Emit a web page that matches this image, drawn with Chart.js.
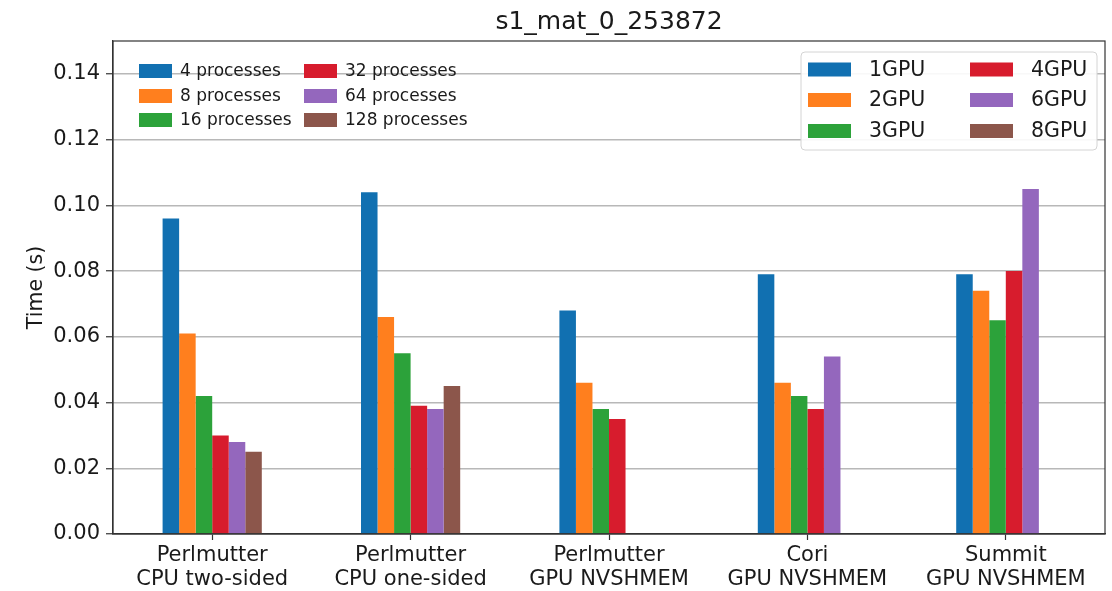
<!DOCTYPE html>
<html>
<head>
<meta charset="utf-8">
<script src="https://cdn.jsdelivr.net/npm/chart.js@4.4.1/dist/chart.umd.min.js"></script>
<style>
  html, body { margin: 0; padding: 0; background: #fff; }
  #wrap { width: 1112px; height: 591px; }
</style>
</head>
<body>
<div id="wrap"><canvas id="chart" width="1112" height="591"></canvas></div>
<script>
// categories (x axis, two lines each)
const categories = [
    ['Perlmutter', 'CPU two-sided'],
    ['Perlmutter', 'CPU one-sided'],
    ['Perlmutter', 'GPU NVSHMEM'],
    ['Cori', 'GPU NVSHMEM'],
    ['Summit', 'GPU NVSHMEM'],
];

// one series per colour slot (CPU process count / GPU count share a slot)
const slot1 = [0.096, 0.104, 0.068, 0.079, 0.079];
const slot2 = [0.061, 0.066, 0.046, 0.046, 0.074];
const slot3 = [0.042, 0.055, 0.038, 0.042, 0.065];
const slot4 = [0.030, 0.039, 0.035, 0.038, 0.080];
const slot5 = [0.028, 0.038, null, 0.054, 0.105];
const slot6 = [0.025, 0.045, null, null, null];

const cpuLabels = ['4 processes', '8 processes', '16 processes', '32 processes', '64 processes', '128 processes'];
const gpuLabels = ['1GPU', '2GPU', '3GPU', '4GPU', '6GPU', '8GPU'];
const colors = ['#1170b1', '#ff7f1e', '#2ca23a', '#d71c2d', '#9467bd', '#8c564b'];

const yTicks = [0, 0.02, 0.04, 0.06, 0.08, 0.10, 0.12, 0.14];
const chartTitle = 's1_mat_0_253872';

const FONT = "'DejaVu Sans', sans-serif";
const TEXT = '#1a1a1a';

const series = [slot1, slot2, slot3, slot4, slot5, slot6];

// title, top/right spines and the two legends are drawn by hand
const extras = {
    id: 'extras',
    afterDatasetsDraw(chart) {
        const { ctx, chartArea: a } = chart;
        ctx.save();
        ctx.strokeStyle = '#333';
        ctx.lineWidth = 1.2;
        ctx.strokeRect(a.left, a.top, a.right - a.left, a.bottom - a.top);
        ctx.restore();
    },
    afterDraw(chart) {
        const { ctx, chartArea: a } = chart;
        ctx.save();

        // title
        ctx.fillStyle = TEXT;
        ctx.font = `25px ${FONT}`;
        ctx.textAlign = 'center';
        ctx.textBaseline = 'middle';
        ctx.fillText(chartTitle, (a.left + a.right) / 2, 22);

        // left legend, no frame
        ctx.font = `17px ${FONT}`;
        ctx.textAlign = 'left';
        const lx = [a.left + 26, a.left + 191];
        const ly = [71, 96, 120];
        cpuLabels.forEach((lab, i) => {
            const col = Math.floor(i / 3), row = i % 3;
            ctx.fillStyle = colors[i];
            ctx.fillRect(lx[col], ly[row] - 7, 33, 14);
            ctx.fillStyle = TEXT;
            ctx.fillText(lab, lx[col] + 41, ly[row] + 1);
        });

        // right legend, rounded frame
        const bx = 801, by = 52, bw = 296, bh = 98;
        ctx.beginPath();
        ctx.roundRect(bx, by, bw, bh, 4);
        ctx.fillStyle = 'rgba(255,255,255,0.9)';
        ctx.fill();
        ctx.strokeStyle = '#d4d4d4';
        ctx.lineWidth = 1;
        ctx.stroke();

        ctx.font = `20.5px ${FONT}`;
        const rx = [808, 970];
        const ry = [69.5, 100, 131];
        gpuLabels.forEach((lab, i) => {
            const col = Math.floor(i / 3), row = i % 3;
            ctx.fillStyle = colors[i];
            ctx.fillRect(rx[col], ry[row] - 7, 43, 14);
            ctx.fillStyle = TEXT;
            ctx.fillText(lab, rx[col] + 61, ry[row] + 1);
        });

        ctx.restore();
    }
};

new Chart(document.getElementById('chart'), {
    type: 'bar',
    data: {
        labels: categories,
        datasets: series.map((d, i) => ({
            label: gpuLabels[i],
            data: d,
            backgroundColor: colors[i],
            borderWidth: 0,
            categoryPercentage: 0.5,
            barPercentage: 1.0,
        })),
    },
    options: {
        responsive: false,
        animation: false,
        layout: { padding: { left: 0, right: 7, top: 41, bottom: 0 } },
        plugins: {
            legend: { display: false },
            tooltip: { enabled: false },
        },
        scales: {
            x: {
                grid: {
                    display: true,
                    drawOnChartArea: false,
                    drawTicks: true,
                    offset: false,
                    tickLength: 6,
                    tickColor: '#333',
                    tickWidth: 1.2,
                },
                border: { display: true, color: '#333', width: 1.2 },
                ticks: {
                    color: TEXT,
                    font: { family: FONT, size: 21, lineHeight: 1.15 },
                    padding: 3,
                    maxRotation: 0,
                    autoSkip: false,
                },
                afterFit(scale) { scale.height = 57; },
            },
            y: {
                min: 0,
                max: 0.15,
                grid: {
                    color: '#b8b8b8',
                    lineWidth: 1.5,
                    drawTicks: true,
                    tickLength: 7,
                    tickColor: '#333',
                    tickWidth: 1.2,
                },
                border: { display: true, color: '#333', width: 1.2 },
                ticks: {
                    color: TEXT,
                    font: { family: FONT, size: 21 },
                    padding: 6,
                    callback: (v) => Number(v).toFixed(2),
                },
                afterBuildTicks(scale) {
                    scale.ticks = yTicks.map((v) => ({ value: v }));
                },
                title: {
                    display: true,
                    text: 'Time (s)',
                    color: TEXT,
                    font: { family: FONT, size: 20.5, lineHeight: 1.2 },
                    padding: { top: 24, bottom: 0 },
                },
                afterFit(scale) { scale.width = 113; },
            },
        },
    },
    plugins: [extras],
});
</script>
</body>
</html>
